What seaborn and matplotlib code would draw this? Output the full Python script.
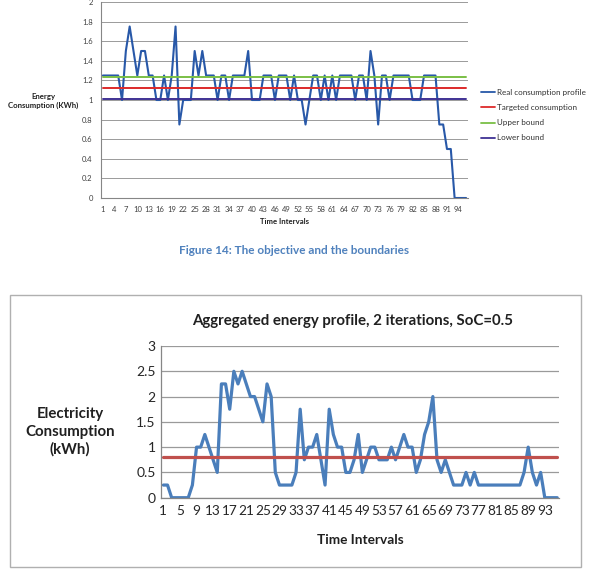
import numpy as np
import pandas as pd
import matplotlib
matplotlib.use("Agg")
import matplotlib.pyplot as plt
import seaborn as sns
from matplotlib.patches import Rectangle
from matplotlib.lines import Line2D

# ---------------- data ----------------
intervals = list(range(1, 97))

real_consumption = [1.25, 1.25, 1.25, 1.25, 1.25, 1.0, 1.5, 1.75, 1.5, 1.25,
                    1.5, 1.5, 1.25, 1.25, 1.0, 1.0, 1.25, 1.0, 1.25, 1.75,
                    0.75, 1.0, 1.0, 1.0, 1.5, 1.25, 1.5, 1.25, 1.25, 1.25,
                    1.0, 1.25, 1.25, 1.0, 1.25, 1.25, 1.25, 1.25, 1.5, 1.0,
                    1.0, 1.0, 1.25, 1.25, 1.25, 1.0, 1.25, 1.25, 1.25, 1.0,
                    1.25, 1.0, 1.0, 0.75, 1.0, 1.25, 1.25, 1.0, 1.25, 1.0,
                    1.25, 1.0, 1.25, 1.25, 1.25, 1.25, 1.0, 1.25, 1.25, 1.0,
                    1.5, 1.25, 0.75, 1.25, 1.25, 1.0, 1.25, 1.25, 1.25, 1.25,
                    1.25, 1.0, 1.0, 1.0, 1.25, 1.25, 1.25, 1.25, 0.75, 0.75,
                    0.5, 0.5, 0.0, 0.0, 0.0, 0.0]
targeted_value = 1.12
upper_value = 1.232
lower_value = 1.008

aggregated_profile = [0.25, 0.25, 0, 0, 0, 0, 0, 0.25, 1.0, 1.0,
                      1.25, 1.0, 0.75, 0.5, 2.25, 2.25, 1.75, 2.5, 2.25, 2.5,
                      2.25, 2.0, 2.0, 1.75, 1.5, 2.25, 2.0, 0.5, 0.25, 0.25,
                      0.25, 0.25, 0.5, 1.75, 0.75, 1.0, 1.0, 1.25, 0.75, 0.25,
                      1.75, 1.25, 1.0, 1.0, 0.5, 0.5, 0.75, 1.25, 0.5, 0.75,
                      1.0, 1.0, 0.75, 0.75, 0.75, 1.0, 0.75, 1.0, 1.25, 1.0,
                      1.0, 0.5, 0.75, 1.25, 1.5, 2.0, 0.75, 0.5, 0.75, 0.5,
                      0.25, 0.25, 0.25, 0.5, 0.25, 0.5, 0.25, 0.25, 0.25, 0.25,
                      0.25, 0.25, 0.25, 0.25, 0.25, 0.25, 0.25, 0.5, 1.0, 0.5,
                      0.25, 0.5, 0, 0, 0, 0]
aggregated_target = 0.81

top_yticks = [0, 0.2, 0.4, 0.6, 0.8, 1, 1.2, 1.4, 1.6, 1.8, 2]
top_ytick_labels = ["0", "0.2", "0.4", "0.6", "0.8", "1", "1.2", "1.4", "1.6", "1.8", "2"]
top_xticks = list(range(1, 97, 3))
bottom_yticks = [0, 0.5, 1, 1.5, 2, 2.5, 3]
bottom_ytick_labels = ["0", "0.5", "1", "1.5", "2", "2.5", "3"]
bottom_xticks = list(range(1, 97, 4))

legend_labels = ["Real consumption profile", "Targeted consumption", "Upper bound", "Lower bound"]

# ---------------- style ----------------
sns.set_theme(style="white")
plt.rcParams['font.family'] = ['Lato', 'DejaVu Sans']

W, H = 590, 577
fig = plt.figure(figsize=(W / 100, H / 100), dpi=100)
fig.patch.set_facecolor("white")


def rect(x0, y0, x1, y1):
    return [x0 / W, 1 - y1 / H, (x1 - x0) / W, (y1 - y0) / H]


c_blue, c_red, c_green, c_purple = "#2858A8", "#DD2A2A", "#7ABF45", "#3F3194"
grid_c = "#9a9a9a"
spine_c = "#868686"

# ---------------- top chart ----------------
ax1 = fig.add_axes(rect(101, 2, 468, 198))
df_top = pd.DataFrame({
    "interval": intervals * 4,
    "value": real_consumption + [targeted_value] * 96 + [upper_value] * 96 + [lower_value] * 96,
    "series": sum([[l] * 96 for l in legend_labels], []),
})
for lab, col, lw in zip(legend_labels, [c_blue, c_red, c_green, c_purple], [1.5, 1.4, 1.4, 1.4]):
    sns.lineplot(data=df_top[df_top.series == lab], x="interval", y="value",
                 ax=ax1, color=col, lw=lw, legend=False)
ax1.set_xlim(0.5, 96.5)
ax1.set_ylim(0, 2)
ax1.set_yticks(top_yticks)
ax1.set_yticklabels(top_ytick_labels, fontsize=5.5, color="#404040")
ax1.set_xticks(top_xticks)
ax1.set_xticklabels([str(t) for t in top_xticks], fontsize=5.5, color="#404040")
ax1.set_xticks(np.arange(0.5, 97, 1), minor=True)
ax1.tick_params(axis="x", which="major", length=0, pad=6)
ax1.tick_params(axis="x", which="minor", length=2.5, width=0.6, color=spine_c, direction="out")
ax1.tick_params(axis="y", length=0, pad=6)
ax1.grid(axis="y", color=grid_c, lw=0.7)
ax1.set_axisbelow(True)
for s in ["top", "right"]:
    ax1.spines[s].set_visible(False)
for s in ["left", "bottom"]:
    ax1.spines[s].set_color(spine_c)
    ax1.spines[s].set_linewidth(0.8)
ax1.set_xlabel("")
ax1.set_ylabel("")

handles = [Line2D([], [], color=c, lw=1.3) for c in [c_blue, c_red, c_green, c_purple]]
fig.legend(handles, legend_labels, loc="upper left", bbox_to_anchor=(478 / W, 1 - 86 / H),
           frameon=False, fontsize=5.8, handlelength=1.7, handletextpad=0.2,
           labelspacing=1.0, borderaxespad=0, labelcolor="#303030")

fig.text(43 / W, 1 - 101 / H, "Energy\nConsumption (KWh)", ha="center", va="center",
         fontsize=5.6, fontweight="bold", linespacing=1.45, color="#202020")
fig.text(284 / W, 1 - 222 / H, "Time Intervals", ha="center", va="center",
         fontsize=5.6, fontweight="bold", color="#202020")

fig.text(294 / W, 1 - 251 / H, "Figure 14: The objective and the boundaries", ha="center",
         va="center", fontsize=8.5, fontweight="bold", color="#4F81BD")

# ---------------- bottom chart ----------------
fig.add_artist(Rectangle((9.5 / W, 1 - 566.5 / H), (581 - 9.5) / W, (566.5 - 295) / H,
                         transform=fig.transFigure, fill=False, edgecolor="#b0b0b0", lw=1.0))

ax2 = fig.add_axes(rect(161.3, 346, 559.3, 497.7))
df_bot = pd.DataFrame({"interval": intervals, "value": aggregated_profile,
                       "target": [aggregated_target] * 96})
sns.lineplot(data=df_bot, x="interval", y="value", ax=ax2, color="#4A7EBB", lw=2.3)
sns.lineplot(data=df_bot, x="interval", y="target", ax=ax2, color="#C0504D", lw=2.3)
ax2.set_xlim(0.5, 96.5)
ax2.set_ylim(0, 3)
ax2.set_yticks(bottom_yticks)
ax2.set_yticklabels(bottom_ytick_labels, fontsize=10, color="#262626")
ax2.set_xticks(bottom_xticks)
ax2.set_xticklabels([str(t) for t in bottom_xticks], fontsize=9.8, color="#262626")
ax2.set_xticks(np.arange(0.5, 97, 1), minor=True)
ax2.tick_params(axis="x", which="major", length=0, pad=5)
ax2.tick_params(axis="x", which="minor", length=3, width=0.7, color=spine_c, direction="out")
ax2.tick_params(axis="y", length=0, pad=4)
ax2.grid(axis="y", color=grid_c, lw=0.9)
ax2.set_axisbelow(True)
for s in ["top", "right"]:
    ax2.spines[s].set_visible(False)
for s in ["left", "bottom"]:
    ax2.spines[s].set_color(spine_c)
    ax2.spines[s].set_linewidth(0.9)
ax2.set_xlabel("")
ax2.set_ylabel("")

fig.text(353 / W, 1 - 321 / H, "Aggregated energy profile, 2 iterations, SoC=0.5",
         ha="center", va="center", fontsize=10.8, fontweight="bold", color="#202020")
fig.text(360 / W, 1 - 540 / H, "Time Intervals", ha="center", va="center",
         fontsize=9.8, fontweight="bold", color="#202020")
fig.text(70 / W, 1 - 432 / H, "Electricity\nConsumption\n(kWh)", ha="center", va="center",
         fontsize=10.8, fontweight="bold", linespacing=1.3, color="#202020")

fig.savefig("out.png", dpi=100)
